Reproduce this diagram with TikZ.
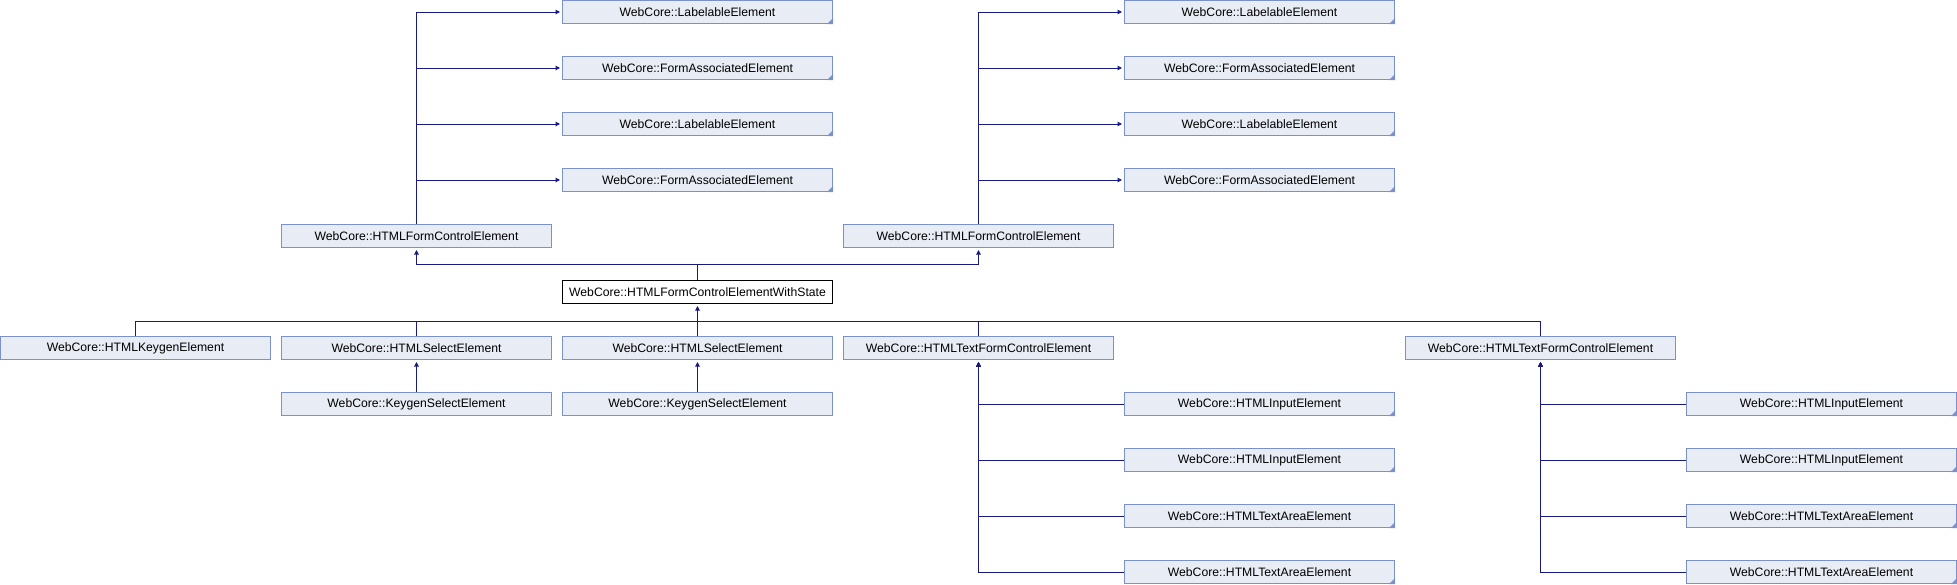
\documentclass[tikz,border=0pt]{standalone}
\usepackage{fontspec}
\setmainfont{Liberation Sans}
\usetikzlibrary{arrows.meta,calc}
\definecolor{boxfill}{RGB}{232,236,245}
\definecolor{boxline}{RGB}{122,145,204}
\definecolor{edgecol}{RGB}{25,25,130}
\tikzset{
  cls/.style={draw=boxline, fill=boxfill, line width=1pt, minimum width=270pt, minimum height=23pt,
    inner sep=0pt, anchor=north west, font=\fontsize{12.2pt}{14pt}\selectfont},
  mainbox/.style={cls, draw=black, fill=white},
  edge/.style={draw=edgecol, line width=1pt},
  arr/.style={edge, -{Triangle[length=4.5pt,width=4.5pt]}, shorten >=2pt},
}
\newcommand{\trunccorner}[1]{\fill[boxline] (#1.south east) -- ++(-6pt,0pt) -- ++(6pt,6pt) -- cycle;}
\begin{document}
\begin{tikzpicture}[x=1pt,y=-1pt]
\useasboundingbox (0,0) rectangle (1957,584);
% column C / E top groups
\node[cls] (C0) at (562,0) {WebCore::LabelableElement};
\node[cls] (C1) at (562,56) {WebCore::FormAssociatedElement};
\node[cls] (C2) at (562,112) {WebCore::LabelableElement};
\node[cls] (C3) at (562,168) {WebCore::FormAssociatedElement};
\node[cls] (E0) at (1124,0) {WebCore::LabelableElement};
\node[cls] (E1) at (1124,56) {WebCore::FormAssociatedElement};
\node[cls] (E2) at (1124,112) {WebCore::LabelableElement};
\node[cls] (E3) at (1124,168) {WebCore::FormAssociatedElement};
% row 4
\node[cls] (B4) at (281,224) {WebCore::HTMLFormControlElement};
\node[cls] (D4) at (843,224) {WebCore::HTMLFormControlElement};
% row 5
\node[mainbox] (C5) at (562,280) {WebCore::HTMLFormControlElementWithState};
% row 6
\node[cls] (A6) at (0,336) {WebCore::HTMLKeygenElement};
\node[cls] (B6) at (281,336) {WebCore::HTMLSelectElement};
\node[cls] (C6) at (562,336) {WebCore::HTMLSelectElement};
\node[cls] (D6) at (843,336) {WebCore::HTMLTextFormControlElement};
\node[cls] (F6) at (1405,336) {WebCore::HTMLTextFormControlElement};
% row 7
\node[cls] (B7) at (281,392) {WebCore::KeygenSelectElement};
\node[cls] (C7) at (562,392) {WebCore::KeygenSelectElement};
% right groups
\node[cls] (E7) at (1124,392) {WebCore::HTMLInputElement};
\node[cls] (E8) at (1124,448) {WebCore::HTMLInputElement};
\node[cls] (E9) at (1124,504) {WebCore::HTMLTextAreaElement};
\node[cls] (E10) at (1124,560) {WebCore::HTMLTextAreaElement};
\node[cls] (G7) at (1686,392) {WebCore::HTMLInputElement};
\node[cls] (G8) at (1686,448) {WebCore::HTMLInputElement};
\node[cls] (G9) at (1686,504) {WebCore::HTMLTextAreaElement};
\node[cls] (G10) at (1686,560) {WebCore::HTMLTextAreaElement};
% truncated corners
\foreach \n in {C0,C1,C2,C3,E0,E1,E2,E3,E7,E8,E9,E10,G7,G8,G9,G10} {\trunccorner{\n}}
% edges: HTMLFormControlElement -> bases
\foreach \n in {C0,C1,C2,C3} {\draw[arr] (B4.north) |- (\n.west);}
\foreach \n in {E0,E1,E2,E3} {\draw[arr] (D4.north) |- (\n.west);}
% WithState -> HTMLFormControlElement
\coordinate (j1) at ($(C5.north)+(0,-16)$);
\draw[edge] (C5.north) -- (j1);
\draw[arr] (j1) -| (B4.south);
\draw[arr] (j1) -| (D4.south);
% row 6 -> WithState
\coordinate (j2) at ($(C5.south)+(0,17)$);
\draw[arr] (j2) -- (C5.south);
\foreach \n in {A6,B6,C6,D6,F6} {\draw[edge] (\n.north) |- (j2);}
% Keygen -> Select
\draw[arr] (B7.north) -- (B6.south);
\draw[arr] (C7.north) -- (C6.south);
% text form control children
\foreach \n in {E7,E8,E9,E10} {\draw[arr] (\n.west) -| (D6.south);}
\foreach \n in {G7,G8,G9,G10} {\draw[arr] (\n.west) -| (F6.south);}
\end{tikzpicture}
\end{document}
